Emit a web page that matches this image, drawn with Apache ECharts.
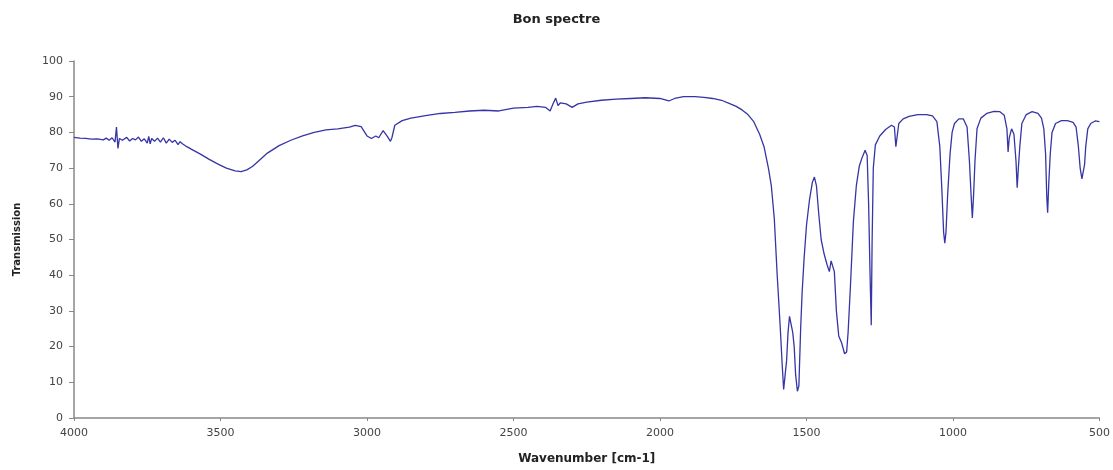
<!DOCTYPE html>
<html>
<head>
<meta charset="utf-8">
<script src="https://cdn.jsdelivr.net/npm/echarts@6/dist/echarts.min.js"></script>
<style>html,body{margin:0;padding:0;background:#fff;}#c{width:1113px;height:470px;}</style>
</head>
<body>
<div id="c"></div>
<script>
const titleText = 'Bon spectre';
const xName = 'Wavenumber [cm-1]';
const yName = 'Transmission';
const wavenumbers = [4000,3980,3960,3940,3920,3900,3890,3880,3870,3860,3855,3850,3845,3835,3820,3810,3800,3790,3780,3770,3760,3750,3745,3740,3735,3725,3715,3705,3695,3685,3675,3665,3655,3645,3638,3630,3615,3600,3570,3540,3510,3480,3450,3430,3410,3390,3370,3340,3300,3260,3220,3180,3140,3100,3060,3040,3020,3000,2985,2970,2960,2945,2930,2920,2915,2905,2880,2850,2800,2750,2700,2650,2600,2550,2500,2450,2420,2390,2375,2365,2356,2348,2340,2320,2300,2280,2250,2200,2150,2100,2050,2000,1970,1950,1920,1880,1850,1820,1790,1760,1740,1720,1700,1680,1660,1645,1630,1620,1610,1600,1590,1583,1578,1572,1568,1563,1558,1552,1547,1542,1537,1531,1526,1520,1515,1508,1500,1490,1480,1473,1466,1458,1450,1440,1430,1422,1416,1410,1405,1398,1390,1380,1370,1363,1358,1350,1340,1330,1320,1310,1300,1293,1288,1283,1279,1276,1272,1265,1250,1230,1210,1200,1195,1190,1185,1170,1150,1120,1090,1070,1055,1045,1038,1032,1028,1024,1018,1010,1003,995,980,965,952,944,938,934,930,925,918,905,885,860,840,825,816,812,808,800,792,785,781,777,772,765,750,730,710,698,690,684,680,677,673,668,662,650,630,610,590,580,572,566,560,555,551,547,540,530,515,500];
const transmission = [78.6,78.4,78.3,78.1,78.2,77.9,78.4,77.8,78.5,77.3,81.5,75.5,78.3,77.8,78.6,77.6,78.3,77.9,78.7,77.5,78.2,77.0,78.9,76.8,78.3,77.5,78.4,77.3,78.5,77.0,78.1,77.2,77.8,76.6,77.4,76.8,76.0,75.3,74.0,72.5,71.2,70.0,69.2,69.0,69.5,70.5,72.0,74.2,76.3,77.8,79.0,80.0,80.7,81.0,81.5,82.0,81.6,79.0,78.3,79.0,78.5,80.5,78.8,77.5,78.5,82.0,83.3,84.0,84.7,85.3,85.6,86.0,86.2,86.0,86.8,87.0,87.3,87.0,86.0,88.0,89.6,87.5,88.3,88.0,87.0,88.0,88.5,89.0,89.3,89.5,89.7,89.5,88.8,89.5,90.0,90.0,89.8,89.5,89.0,88.0,87.3,86.3,85.0,83.0,79.5,76.0,70.0,65.0,56.0,40.0,26.0,15.0,8.0,8.0,16.0,24.0,28.5,29.0,24.0,20.0,12.0,7.5,9.0,25.0,35.0,45.0,54.0,61.0,66.0,67.5,65.0,57.0,50.0,46.0,43.0,41.0,44.0,44.5,41.0,30.0,23.0,21.0,18.0,18.5,24.0,37.0,55.0,65.0,70.5,73.0,75.0,73.5,60.0,40.0,26.0,50.0,70.0,76.5,79.0,80.8,82.0,81.5,76.0,75.5,82.5,83.8,84.5,85.0,85.0,84.6,83.0,76.0,64.0,52.0,49.0,52.0,63.0,74.0,80.0,82.5,83.8,83.8,81.5,72.0,62.0,56.0,62.0,72.0,81.0,84.0,85.3,85.9,85.8,84.8,81.0,74.5,78.5,81.0,79.5,72.0,64.5,70.0,76.0,82.5,85.0,85.8,85.3,84.0,81.0,74.0,62.0,57.5,66.0,74.0,80.0,82.5,83.3,83.3,82.8,81.5,76.0,70.0,67.0,67.5,71.0,76.0,81.0,82.5,83.2,83.0];

const seriesData = wavenumbers.map((w, i) => [w, transmission[i]]);
const font = 'DejaVu Sans, Arial, sans-serif';
const chart = echarts.init(document.getElementById('c'), null, {renderer: 'canvas'});
chart.setOption({
  animation: false,
  backgroundColor: '#ffffff',
  title: {
    text: titleText, left: 'center', top: 8,
    textStyle: {fontFamily: font, fontSize: 13, fontWeight: 'bold', color: '#222'}
  },
  grid: {left: 74, right: 13, top: 61, bottom: 43},
  xAxis: {
    type: 'value', inverse: true, min: 500, max: 4000, interval: 500,
    name: xName, nameLocation: 'middle', nameGap: 35,
    nameTextStyle: {fontFamily: font, fontSize: 12, fontWeight: 'bold', color: '#222'},
    axisLine: {show: true, lineStyle: {color: '#888', width: 1.5}},
    axisTick: {show: true, length: 3, lineStyle: {color: '#888'}},
    axisLabel: {fontFamily: font, fontSize: 11, color: '#444', margin: 10, formatter: v => String(v)},
    splitLine: {show: false}
  },
  yAxis: {
    type: 'value', min: 0, max: 100, interval: 10,
    name: yName, nameLocation: 'middle', nameGap: 52, nameRotate: 90,
    nameTextStyle: {fontFamily: font, fontSize: 10, fontWeight: 'bold', color: '#222'},
    axisLine: {show: true, lineStyle: {color: '#888', width: 1.5}},
    axisTick: {show: true, length: 5, lineStyle: {color: '#888'}},
    axisLabel: {fontFamily: font, fontSize: 11, color: '#444', margin: 11},
    splitLine: {show: false}
  },
  series: [{
    type: 'line', data: seriesData, showSymbol: false, smooth: false,
    lineStyle: {color: '#3535a5', width: 1.3}
  }]
});
</script>
</body>
</html>
